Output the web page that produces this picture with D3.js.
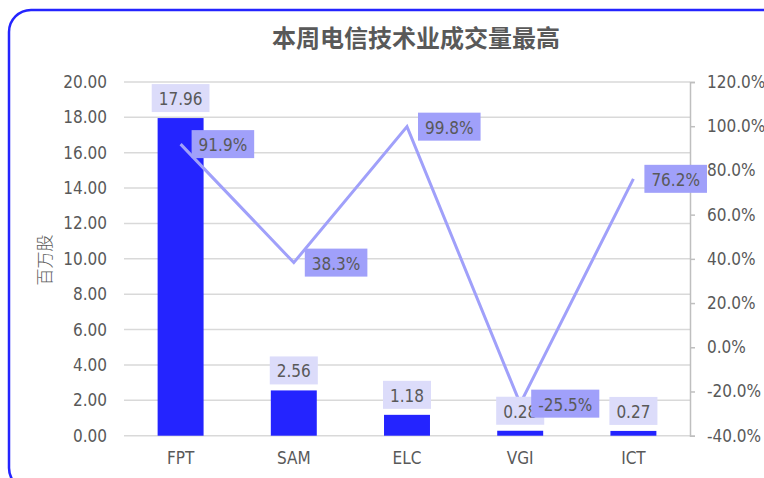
<!DOCTYPE html>
<html><head><meta charset="utf-8">
<script src="https://cdn.jsdelivr.net/npm/d3@7/dist/d3.min.js"></script>
<style>
html,body{margin:0;padding:0;background:#fff;overflow:hidden;}
svg{display:block;}
.num{font-family:'DejaVu Sans Condensed','DejaVu Sans',sans-serif;font-stretch:condensed;}
</style></head><body>
<script>
const title = "本周电信技术业成交量最高";
const yLabel = "百万股";
const categories = ["FPT","SAM","ELC","VGI","ICT"];
const volumes = [17.96, 2.56, 1.18, 0.28, 0.27];
const changes = [91.9, 38.3, 99.8, -25.5, 76.2];
const leftTicks = [0,2,4,6,8,10,12,14,16,18,20];
const rightTicks = [-40,-20,0,20,40,60,80,100,120];

const W = 764, H = 478;
const svg = d3.select("body").append("svg").attr("width", W).attr("height", H);

// border
svg.append("rect").attr("x",9).attr("y",10).attr("width",780).attr("height",480)
  .attr("rx",22).attr("ry",22).attr("fill","#fff").attr("stroke","#2424ff").attr("stroke-width",2.5);

const plot = {left:124, right:690, top:82, bottom:435.7};
const x = d3.scaleBand().domain(categories).range([plot.left, plot.right])
  .paddingInner(0.594).paddingOuter(0.297);
const y = d3.scaleLinear().domain([0,20]).range([plot.bottom, plot.top]);
const y2 = d3.scaleLinear().domain([-40,120]).range([plot.bottom, plot.top]);

const textColor = "#595959";
const fs = 17;
const pct = d => d3.format(".1f")(d).replace("\u2212","-") + "%";

// title
svg.append("text").attr("x",416).attr("y",47).attr("text-anchor","middle")
  .attr("font-family","'Noto Sans CJK SC'").attr("font-weight",700).attr("font-size",24)
  .attr("fill",textColor).text(title);

// gridlines
svg.append("g").selectAll("line").data(leftTicks).join("line")
  .attr("x1",plot.left).attr("x2",plot.right)
  .attr("y1",d=>y(d)).attr("y2",d=>y(d))
  .attr("stroke","#d9d9d9").attr("stroke-width",1.5);

// left axis
const gl = svg.append("g").attr("transform",`translate(${plot.left-17},0)`)
  .call(d3.axisLeft(y).tickValues(leftTicks).tickFormat(d3.format(".2f")).tickSize(0).tickPadding(0));
gl.select(".domain").remove();
gl.selectAll("text").attr("class","num").attr("font-size",fs).attr("fill",textColor);

// right axis
const gr = svg.append("g").attr("transform",`translate(${plot.right},0)`)
  .call(d3.axisRight(y2).tickValues(rightTicks).tickFormat(pct).tickSize(5).tickPadding(12));
gr.select(".domain").attr("stroke","#bfbfbf").attr("stroke-width",1.5);
gr.selectAll(".tick line").attr("stroke","#bfbfbf").attr("stroke-width",1.5);
gr.selectAll("text").attr("class","num").attr("font-size",fs).attr("fill",textColor);

// x axis labels
const gx = svg.append("g").attr("transform",`translate(0,${plot.bottom})`)
  .call(d3.axisBottom(x).tickSize(0).tickPadding(16));
gx.select(".domain").remove();
gx.selectAll("text").attr("class","num").attr("font-size",fs).attr("fill",textColor);

// y label
svg.append("text").attr("transform","translate(51,260) rotate(-90)").attr("text-anchor","middle")
  .attr("font-family","'Noto Sans CJK SC'").attr("font-weight",300).attr("font-size",17)
  .attr("fill",textColor).text(yLabel);

// bars
svg.append("g").selectAll("rect").data(categories).join("rect")
  .attr("x",d=>x(d)).attr("width",x.bandwidth())
  .attr("y",(d,i)=>y(volumes[i])).attr("height",(d,i)=>y(0)-y(volumes[i]))
  .attr("fill","#2424ff");

// line
const cx = d=>x(d)+x.bandwidth()/2;
svg.append("path").datum(categories)
  .attr("d", d3.line().x(d=>cx(d)).y((d,i)=>y2(changes[i])))
  .attr("fill","none").attr("stroke","#a0a0fa").attr("stroke-width",3).attr("stroke-linejoin","miter");

function labelBox(g, cxv, cyv, txt, bg, anchorLeft){
  const t = g.append("text").attr("class","num").attr("font-size",fs).attr("fill",textColor)
    .attr("dominant-baseline","central").text(txt);
  const w = t.node().getComputedTextLength() + 14;
  const left = anchorLeft ? cxv : cxv - w/2;
  g.insert("rect","text").attr("x",left).attr("y",cyv-14).attr("width",w).attr("height",28).attr("fill",bg);
  t.attr("x",left+7).attr("y",cyv+1);
}

// bar labels
categories.forEach((c,i)=>{
  const g = svg.append("g");
  labelBox(g, cx(c), y(volumes[i])-20, d3.format(".2f")(volumes[i]), "#dcdcfa", false);
});
// line labels
categories.forEach((c,i)=>{
  const g = svg.append("g");
  labelBox(g, cx(c)+11, y2(changes[i]), pct(changes[i]), "#a0a0fa", true);
});
</script>
</body></html>
